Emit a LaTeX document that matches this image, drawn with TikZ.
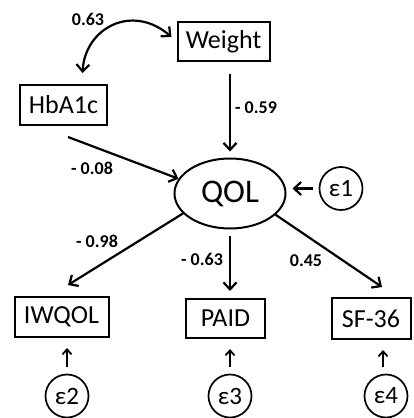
\documentclass[tikz,border=0pt]{standalone}
\usepackage{fontspec}
\setmainfont{Carlito}
\usetikzlibrary{arrows.meta,shapes.geometric,calc}
\begin{document}
\begin{tikzpicture}[x=1pt,y=-1pt,
  box/.style={draw,line width=2pt,inner sep=0pt,font=\fontsize{26}{26}\selectfont},
  err/.style={draw,circle,line width=1.7pt,inner sep=0pt,minimum size=43pt,font=\fontsize{25}{25}\selectfont},
  lat/.style={draw,ellipse,line width=2pt,inner sep=0pt,minimum width=111pt,minimum height=70pt,font=\fontsize{33}{33}\selectfont},
  conn/.style={line width=2.2pt,-{Straight Barb[length=7pt,width=13pt,line width=2.2pt]}},
  small/.style={line width=1.8pt,-{Straight Barb[length=5pt,width=9pt,line width=1.8pt]}},
  coef/.style={font=\fontsize{18}{18}\selectfont\bfseries}]
\useasboundingbox (0,0) rectangle (413,418);
\node[box,minimum width=92pt,minimum height=39pt] (weight) at (223.5,41.5) {Weight};
\node[box,minimum width=87pt,minimum height=40pt] (hba1c) at (63.5,105) {HbA1c};
\node[lat] (qol) at (230,193.5) {QOL};
\node[err] (e1) at (341,188.5) {ε1};
\node[box,minimum width=94pt,minimum height=40pt] (iwqol) at (61.5,317) {IWQOL};
\node[box,minimum width=79pt,minimum height=39pt] (paid) at (225.5,318.5) {PAID};
\node[box,minimum width=79pt,minimum height=41pt] (sf36) at (371,318.5) {SF-36};
\node[err] (e2) at (67,396) {ε2};
\node[err] (e3) at (230,396) {ε3};
\node[err] (e4) at (386,396) {ε4};

\draw[conn,{Straight Barb[length=7pt,width=13pt,line width=2.2pt]}-{Straight Barb[length=7pt,width=13pt,line width=2.2pt]}]
  ([xshift=19pt,yshift=11pt]hba1c.north) .. controls (85,28) and (132,3) .. ([xshift=-5pt,yshift=4.5pt]weight.west);
\draw[conn,shorten <=12pt,shorten >=6pt] (weight.south -| qol.north) -- (qol.north);
\draw[conn] ([xshift=4.5pt,yshift=-11pt]hba1c.south) -- (qol.164);
\draw[conn,shorten <=6pt,shorten >=6pt] (e1.west) -- (e1.west -| qol.east);
\draw[conn] (qol.203) -- ([xshift=6.5pt,yshift=11pt]iwqol.north);
\draw[conn,shorten <=6pt,shorten >=7pt] (qol.south) -- (qol.south |- paid.north);
\draw[conn] (qol.-25) -- ([xshift=11pt,yshift=10pt]sf36.north);
\draw[small,shorten <=7pt,shorten >=10pt] (e2.north) -- (e2.north |- iwqol.south);
\draw[small,shorten <=7pt,shorten >=10pt] (e3.north) -- (e3.north |- paid.south);
\draw[small,shorten <=7pt,shorten >=10pt] ([xshift=-3pt]e4.north) -- ([xshift=-3pt]e4.north |- sf36.south);

\node[coef] (l1) at (88,19) {0.63};
\node[coef] (l2) at (256,108) {- 0.59};
\node[coef] (l3) at (92,168) {- 0.08};
\node[coef] (l4) at (97,241) {- 0.98};
\node[coef] (l5) at (202,259) {- 0.63};
\node[coef] (l6) at (306,261) {0.45};
\end{tikzpicture}
\end{document}
